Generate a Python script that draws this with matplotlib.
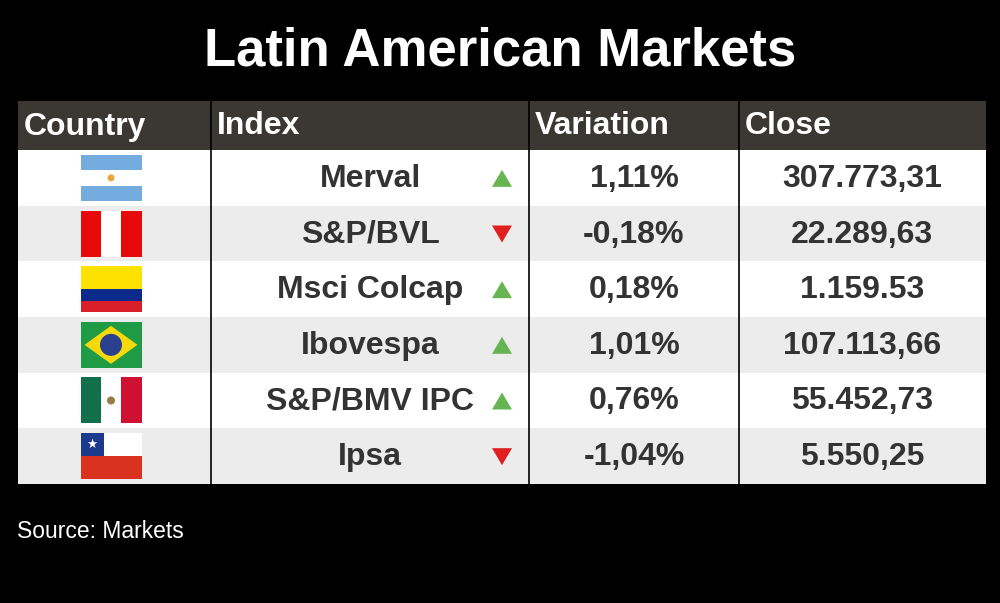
import matplotlib.pyplot as plt
from matplotlib.patches import Rectangle, Polygon, Circle

# data
countries = ["Argentina", "Peru", "Colombia", "Brazil", "Mexico", "Chile"]
indexes = ["Merval", "S&P/BVL", "Msci Colcap", "Ibovespa", "S&P/BMV IPC", "Ipsa"]
variations = ["1,11%", "-0,18%", "0,18%", "1,01%", "0,76%", "-1,04%"]
directions = ["up", "down", "up", "up", "up", "down"]
closes = ["307.773,31", "22.289,63", "1.159.53", "107.113,66", "55.452,73", "5.550,25"]
headers = ["Country", "Index", "Variation", "Close"]

FONT = ["Liberation Sans", "DejaVu Sans"]
TEXT = "#333333"
HEAD_BG = "#3b3733"
ROW_BG = ["#ffffff", "#ececec"]
GREEN = "#66b552"
RED = "#e0201e"

col_x = [18, 211, 529, 739, 986]
head_top, head_bot = 101, 150
row_h = (484 - head_bot) / len(countries)
CELL_FS = 23


def draw_flag(ax, name, cx, cy, w=61, h=46):
    x0, y0 = cx - w / 2, cy - h / 2
    if name == "Argentina":
        for i, c in enumerate(["#74acdf", "#ffffff", "#74acdf"]):
            ax.add_patch(Rectangle((x0, y0 + i * h / 3), w, h / 3, color=c, lw=0))
        ax.add_patch(Circle((cx, cy), 3.5, color="#e8a93a", lw=0))
    elif name == "Peru":
        for i, c in enumerate(["#e80a0a", "#ffffff", "#e80a0a"]):
            ax.add_patch(Rectangle((x0 + i * w / 3, y0), w / 3, h, color=c, lw=0))
    elif name == "Colombia":
        ax.add_patch(Rectangle((x0, y0), w, h / 2, color="#fde100", lw=0))
        ax.add_patch(Rectangle((x0, y0 + h / 2), w, h / 4, color="#0a2a8c", lw=0))
        ax.add_patch(Rectangle((x0, y0 + 3 * h / 4), w, h / 4, color="#d81f2a", lw=0))
    elif name == "Brazil":
        ax.add_patch(Rectangle((x0, y0), w, h, color="#1f9a45", lw=0))
        ax.add_patch(Polygon([(x0 + 4, cy), (cx, y0 + 4), (x0 + w - 4, cy), (cx, y0 + h - 4)],
                             closed=True, color="#f5d90a", lw=0))
        ax.add_patch(Circle((cx, cy), 11, color="#2b3f8f", lw=0))
    elif name == "Mexico":
        for i, c in enumerate(["#11704a", "#ffffff", "#cf1030"]):
            ax.add_patch(Rectangle((x0 + i * w / 3, y0), w / 3, h, color=c, lw=0))
        ax.add_patch(Circle((cx, cy), 4, color="#9a7a45", lw=0))
    elif name == "Chile":
        ax.add_patch(Rectangle((x0, y0), w, h / 2, color="#ffffff", lw=0))
        ax.add_patch(Rectangle((x0, y0 + h / 2), w, h / 2, color="#d9321f", lw=0))
        ax.add_patch(Rectangle((x0, y0), w * 0.38, h / 2, color="#1b3a8c", lw=0))
        ax.text(x0 + w * 0.19, y0 + h / 4, "\u2605", color="white", fontsize=9,
                ha="center", va="center", family=FONT)


def draw_arrow(ax, direction, cx, cy, s=10):
    if direction == "up":
        pts = [(cx - s, cy + 8), (cx + s, cy + 8), (cx, cy - 9)]
        c = GREEN
    else:
        pts = [(cx - s, cy - 9), (cx + s, cy - 9), (cx, cy + 8)]
        c = RED
    ax.add_patch(Polygon(pts, closed=True, color=c, lw=0))


fig = plt.figure(figsize=(10, 6.03), dpi=100, facecolor="black")
ax = fig.add_axes([0, 0, 1, 1])
ax.set_xlim(0, 1000)
ax.set_ylim(603, 0)
ax.axis("off")
ax.set_facecolor("black")

ax.text(500, 52, "Latin American Markets", color="white", fontsize=38, fontweight="bold",
        ha="center", va="center", family=FONT)

# header
ax.add_patch(Rectangle((col_x[0], head_top), col_x[-1] - col_x[0], head_bot - head_top,
                       color=HEAD_BG, lw=0))
for i, h in enumerate(headers):
    ax.text(col_x[i] + 6, (head_top + head_bot) / 2 + 1, h, color="white", fontsize=23,
            fontweight="bold", ha="left", va="center", family=FONT)

# rows
for r, country in enumerate(countries):
    y0 = head_bot + r * row_h
    cy = y0 + row_h / 2 + 1
    ax.add_patch(Rectangle((col_x[0], y0), col_x[-1] - col_x[0], row_h,
                           color=ROW_BG[r % 2], lw=0))
    draw_flag(ax, country, 111, cy - 1)
    ax.text(370, cy, indexes[r], color=TEXT, fontsize=CELL_FS, fontweight="bold",
            ha="center", va="center", family=FONT)
    draw_arrow(ax, directions[r], 502, cy)
    ax.text(634, cy, variations[r], color=TEXT, fontsize=CELL_FS, fontweight="bold",
            ha="center", va="center", family=FONT)
    ax.text(862, cy, closes[r], color=TEXT, fontsize=CELL_FS, fontweight="bold",
            ha="center", va="center", family=FONT)

for x in col_x[1:-1]:
    ax.plot([x, x], [head_top, 484], color="black", lw=1.2)

ax.text(17, 531, "Source: Markets", color="white", fontsize=16.5, ha="left", va="center",
        family=FONT)

fig.savefig("out.png", dpi=100, facecolor="black")
